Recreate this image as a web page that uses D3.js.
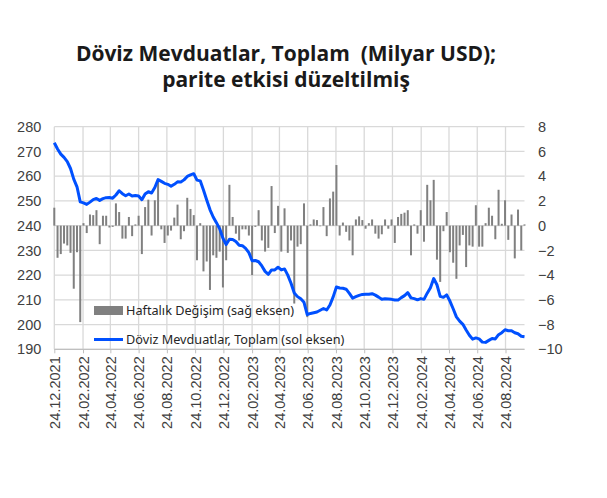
<!DOCTYPE html>
<html><head><meta charset="utf-8">
<script src="https://cdn.jsdelivr.net/npm/d3@7"></script>
<style>body{margin:0;background:#fff}</style>
</head><body>
<svg id="chart" width="607" height="498"></svg>
<script>
const firstWeek = "2021-12-24";
const weeklyChange = [
 1.45,-2.6,-2.3,-1.45,-1.6,-2.2,-5.1,-2.15,-7.8,0.2,
 -0.6,0.9,0.85,1.25,-1.5,0.8,0.8,-0.15,-0.1,1.8,
 1.1,-1.05,-1.05,0.7,-0.85,0.1,0.8,-2.3,1.5,2.1,
 -0.8,2.05,3.7,-0.3,-1.4,-0.8,-0.4,0.65,1.7,-1.1,
 -0.45,2.25,1.35,0.85,-2.8,0.2,-3.7,-2.9,-5.2,-2.4,
 -2.6,-2.1,-5.0,-2.8,3.3,0.7,-0.65,-1.2,-0.3,-0.3,
 -0.8,-4.0,-0.1,1.25,-1.2,-2.1,-1.8,3.2,-0.6,1.6,
 -2.1,1.4,-2.2,-1.2,-6.3,-1.7,-1.5,1.8,-7.4,0.1,
 0.5,0.45,-0.05,1.5,-0.85,2.2,2.75,4.9,-0.8,0.25,
 -0.5,-1.2,-2.4,0.5,0.75,0.45,-0.25,0.2,0.5,-0.65,
 -1.05,-0.7,0.5,-0.25,0.5,-1.4,0.7,0.95,1.05,1.25,
 -2.4,0.1,-0.65,1.25,-1.3,3.3,2.05,3.7,-2.75,-4.55,
 -0.45,1.1,-2.15,-3.0,-4.3,-1.6,-0.75,-3.35,-1.6,-1.7,
 1.65,-1.7,-1.7,0.2,1.45,0.8,-1.1,2.9,0.15,2.05,
 -1.15,0.9,-2.65,1.3,-2.0,0.1
];
const totalDeposits = [
 273.5,271.0,268.9,267.6,265.9,263.1,258.8,255.7,249.6,249.2,
 248.6,249.5,250.5,251.0,250.2,250.9,251.3,251.4,251.1,252.4,
 254.1,252.9,252.1,252.8,252.0,252.2,252.0,250.5,252.8,253.7,
 253.2,255.4,258.6,257.9,257.1,256.7,255.9,256.7,257.7,257.6,
 258.5,259.9,260.5,261.0,258.4,258.1,254.4,250.4,246.5,243.5,
 241.2,238.7,234.9,232.4,234.5,234.4,233.6,232.1,231.9,230.8,
 229.1,225.8,225.9,225.4,223.7,221.5,220.3,222.1,222.1,223.2,
 222.1,222.5,220.0,216.7,212.8,211.3,210.4,209.0,204.0,204.5,
 204.8,205.1,205.8,206.5,205.9,207.9,211.2,215.2,214.8,214.7,
 214.3,212.6,210.7,211.3,211.8,212.2,212.3,212.3,212.5,211.9,
 211.1,210.2,210.4,210.3,210.2,209.9,209.9,210.9,211.7,212.9,
 210.8,210.5,210.0,210.5,210.2,212.7,214.9,218.6,216.1,211.4,
 211.0,212.0,209.5,206.4,203.1,201.4,200.1,197.8,195.7,194.1,
 194.6,194.2,192.9,192.8,193.6,194.4,194.2,195.9,196.7,197.9,
 197.5,197.5,196.7,196.3,195.3,195.1
];
const leftTicks = [190,200,210,220,230,240,250,260,270,280];
const rightTicks = [-10,-8,-6,-4,-2,0,2,4,6,8];
const xTickLabels = ["24.12.2021","24.02.2022","24.04.2022","24.06.2022","24.08.2022","24.10.2022",
 "24.12.2022","24.02.2023","24.04.2023","24.06.2023","24.08.2023","24.10.2023","24.12.2023",
 "24.02.2024","24.04.2024","24.06.2024","24.08.2024"];
const legendLabels = ["Haftalık Değişim (sağ eksen)", "Döviz Mevduatlar, Toplam (sol eksen)"];
const titleLines = ["Döviz Mevduatlar, Toplam  (Milyar USD);", "parite etkisi düzeltilmiş"];

const svg = d3.select("#chart");
const parse = d3.utcParse("%Y-%m-%d");
const parseTick = d3.utcParse("%d.%m.%Y");
const start = parse(firstWeek);
const dates = weeklyChange.map((_, i) => d3.utcDay.offset(start, 7 * i));
const tickDates = xTickLabels.map(parseTick);

const pLeft = 54.3, pRight = 524.5, pTop = 126.7, pBottom = 349.3;
const x = d3.scaleUtc().domain([dates[0], dates[dates.length - 1]]).range([pLeft, pRight]);
const yL = d3.scaleLinear().domain([190, 280]).range([pBottom, pTop]);
const yR = d3.scaleLinear().domain([-10, 8]).range([pBottom, pTop]);

// title
svg.append("g").selectAll("text").data(titleLines).join("text")
  .attr("x", 286).attr("y", (d, i) => 61 + i * 26)
  .attr("text-anchor", "middle")
  .style("white-space", "pre")
  .attr("font-family", "'Open Sans', sans-serif").attr("font-weight", 700)
  .attr("font-size", 21).attr("fill", "#1a1a1a")
  .text(d => d);

// gridlines
const grid = svg.append("g").attr("stroke", "#d9d9d9").attr("stroke-width", 1.3);
grid.selectAll("line.h").data(leftTicks).join("line")
  .attr("x1", pLeft).attr("x2", pRight)
  .attr("y1", d => yL(d)).attr("y2", d => yL(d));
grid.selectAll("line.v").data(tickDates).join("line")
  .attr("x1", d => x(d)).attr("x2", d => x(d))
  .attr("y1", pTop).attr("y2", pBottom);

// bars
svg.append("g").selectAll("rect").data(weeklyChange).join("rect")
  .attr("x", (d, i) => x(dates[i]) - 1)
  .attr("width", 2)
  .attr("y", d => yR(Math.max(0, d)))
  .attr("height", d => Math.abs(yR(d) - yR(0)))
  .attr("fill", "#808080");

// line
const line = d3.line().x((d, i) => x(dates[i])).y(d => yL(d));
svg.append("path").datum(totalDeposits)
  .attr("d", line).attr("fill", "none")
  .attr("stroke", "#0050ff").attr("stroke-width", 3)
  .attr("stroke-linejoin", "round");

// axes
const axisFont = "'Liberation Sans', Arial, sans-serif";
const gL = svg.append("g").attr("transform", `translate(${pLeft},0)`)
  .call(d3.axisLeft(yL).tickValues(leftTicks).tickSize(0).tickPadding(13));
const gR = svg.append("g").attr("transform", `translate(${pRight},0)`)
  .call(d3.axisRight(yR).tickValues(rightTicks).tickSize(0).tickPadding(13.5));
const gX = svg.append("g").attr("transform", `translate(0,${pBottom})`)
  .call(d3.axisBottom(x).tickValues(tickDates).tickSize(4).tickFormat(d3.utcFormat("%d.%m.%Y")));
[gL, gR, gX].forEach(g => {
  g.select(".domain").remove();
  g.selectAll("text").attr("font-family", axisFont).attr("font-size", 14.5).attr("fill", "#404040");
});
gX.selectAll(".tick line").attr("stroke", "#bfbfbf");
gX.append("line").attr("x1", pLeft).attr("x2", pRight).attr("y1", 0).attr("y2", 0)
  .attr("stroke", "#bfbfbf").attr("stroke-width", 1.3);
gX.selectAll("text")
  .attr("transform", "rotate(-90)")
  .attr("text-anchor", "end")
  .attr("x", -7).attr("y", 0).attr("dy", "0.35em");

// legend
const leg = svg.append("g").attr("font-family", "'Noto Sans', sans-serif").attr("font-size", 12.7).attr("fill", "#262626");
leg.append("rect").attr("x", 94).attr("y", 306).attr("width", 29).attr("height", 9).attr("fill", "#808080");
leg.append("text").attr("x", 126).attr("y", 315).text(legendLabels[0]);
leg.append("line").attr("x1", 94).attr("x2", 123).attr("y1", 339.5).attr("y2", 339.5)
  .attr("stroke", "#0050ff").attr("stroke-width", 3);
leg.append("text").attr("x", 126).attr("y", 344).text(legendLabels[1]);
</script>
</body></html>
